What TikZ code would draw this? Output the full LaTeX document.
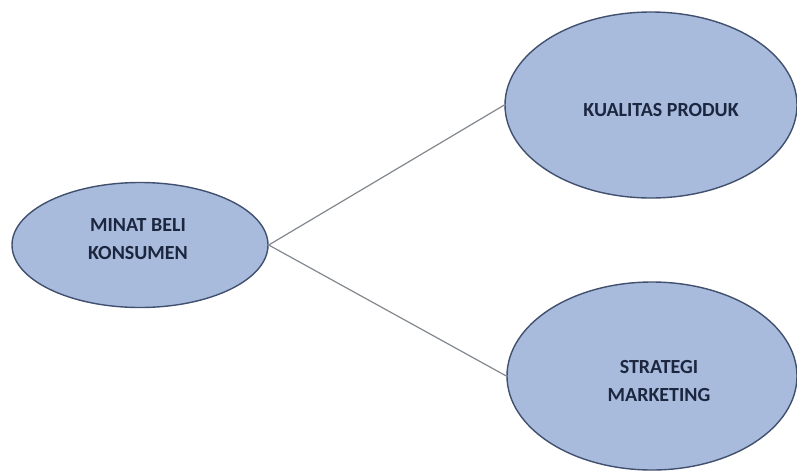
\documentclass[tikz,border=0pt]{standalone}
\usepackage{fontspec}
\setmainfont{Carlito}
\usetikzlibrary{shapes.geometric}
\definecolor{ellfill}{RGB}{168,187,221}
\definecolor{elldraw}{RGB}{64,80,110}
\definecolor{txtcol}{RGB}{28,38,62}
\definecolor{linecol}{RGB}{130,135,142}
\begin{document}
\begin{tikzpicture}[x=1pt,y=-1pt,
  bubble/.style={ellipse, draw=elldraw, line width=1.4pt, fill=ellfill, inner sep=0pt},
  lbl/.style={text=txtcol, font=\fontsize{20}{28}\selectfont\bfseries, align=center, inner sep=0pt},
  link/.style={draw=linecol, line width=1.2pt}]
\useasboundingbox (0,0) rectangle (797,472);
\node[bubble, minimum width=256pt, minimum height=125pt] (minat) at (140,245) {};
\node[bubble, minimum width=292pt, minimum height=186pt] (kualitas) at (651,105) {};
\node[bubble, minimum width=290pt, minimum height=188pt] (strategi) at (652,376) {};
\node[lbl] (tminat) at (138,239) {MINAT BELI\\KONSUMEN};
\node[lbl] (tkualitas) at (661,110) {KUALITAS PRODUK};
\node[lbl] (tstrategi) at (659,381) {STRATEGI\\MARKETING};
\draw[link] (minat.east) -- (kualitas.west);
\draw[link] (minat.east) -- (strategi.west);
\end{tikzpicture}
\end{document}
